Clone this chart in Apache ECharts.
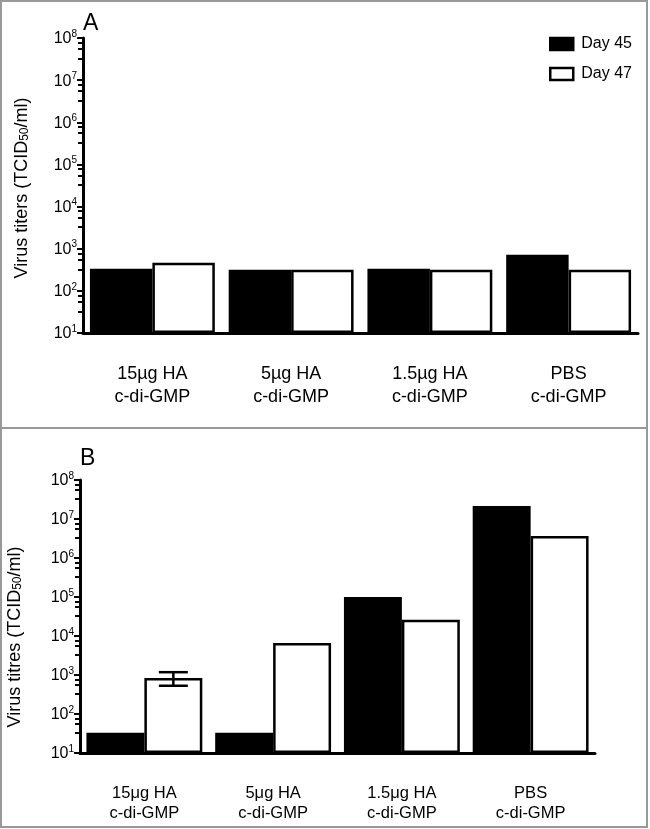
<!DOCTYPE html>
<html>
<head>
<meta charset="utf-8">
<script src="https://cdn.jsdelivr.net/npm/echarts@6/dist/echarts.min.js"></script>
<style>
  html, body { margin: 0; padding: 0; background: #fff; }
  #chart { width: 650px; height: 829px; }
</style>
</head>
<body>
<div id="chart"></div>
<script>
// categories
const categoriesA = ['15µg HA\nc-di-GMP', '5µg HA\nc-di-GMP', '1.5µg HA\nc-di-GMP', 'PBS\nc-di-GMP'];
const categoriesB = ['15μg HA\nc-di-GMP', '5μg HA\nc-di-GMP', '1.5μg HA\nc-di-GMP', 'PBS\nc-di-GMP'];
const seriesNames = ['Day 45', 'Day 47'];

// panel A values (TCID50/ml)
const day45A = [333, 316, 333, 720];
const day47A = [464, 316, 316, 316];

// panel B values (TCID50/ml)
const day45B = [33, 33, 100000, 21500000];
const day47B = [840, 6600, 26000, 3660000];
// error bar on Day 47: [category index, low, high]
const errorB = [[0, 530, 1180]];

// log axis range
const yMin = 10;
const yMax = 1e8;

const FONT = '"Liberation Sans", Arial, Helvetica, sans-serif';
const CAT_GAP = 0.1;

const chart = echarts.init(document.getElementById('chart'));

function yAxisFor(gridIndex) {
  return {
    type: 'log',
    logBase: 10,
    gridIndex: gridIndex,
    min: yMin,
    max: yMax,
    startValue: yMin,
    splitNumber: 7,
    axisLine: { show: true, onZero: false, lineStyle: { color: '#000', width: 3 } },
    axisTick: { show: true, length: 6, lineStyle: { color: '#000', width: 2 } },
    minorTick: { show: true, splitNumber: 4, length: 5, lineStyle: { color: '#000', width: 2 } },
    splitLine: { show: false },
    minorSplitLine: { show: false },
    axisLabel: {
      margin: 6,
      formatter: function (v) {
        return '{b|10}{s|' + Math.round(Math.log10(v)) + '}';
      },
      rich: {
        b: { fontSize: 16, lineHeight: 18, verticalAlign: 'bottom', color: '#000', fontFamily: FONT },
        s: { fontSize: 10, lineHeight: 10, verticalAlign: 'top', color: '#000', fontFamily: FONT }
      }
    }
  };
}

function xAxisFor(gridIndex, cats, fontSize, lineHeight) {
  return {
    type: 'category',
    gridIndex: gridIndex,
    data: cats,
    axisLine: { show: true, onZero: false, lineStyle: { color: '#000', width: 3 } },
    axisTick: { show: false },
    axisLabel: {
      interval: 0,
      margin: 30,
      color: '#000',
      fontSize: fontSize,
      lineHeight: lineHeight,
      fontFamily: FONT,
      align: 'center'
    }
  };
}

function barSeries(name, data, gridIndex, fill) {
  return {
    name: name,
    type: 'bar',
    xAxisIndex: gridIndex,
    yAxisIndex: gridIndex,
    data: data,
    clip: true,
    barGap: '0%',
    barCategoryGap: (CAT_GAP * 100) + '%',
    itemStyle: { color: fill, borderColor: '#000', borderWidth: 2.5 },
    emphasis: { disabled: true }
  };
}

const titleRich = {
  b: { fontSize: 18, lineHeight: 18, verticalAlign: 'top', fill: '#000', fontFamily: FONT },
  s: { fontSize: 12, lineHeight: 12, padding: [9, 0, 0, 0], verticalAlign: 'bottom', fill: '#000', fontFamily: FONT }
};

const option = {
  backgroundColor: '#fff',
  animation: false,
  textStyle: { fontFamily: FONT },
  grid: [
    { left: 83, top: 38, width: 555, height: 295 },
    { left: 80, top: 480, width: 515, height: 273 }
  ],
  legend: {
    data: [
      { name: seriesNames[0], itemStyle: { color: '#000', borderColor: '#000', borderWidth: 2.5 } },
      { name: seriesNames[1], itemStyle: { color: '#fff', borderColor: '#000', borderWidth: 2.5 } }
    ],
    orient: 'vertical',
    left: 544,
    top: 31,
    icon: 'rect',
    itemWidth: 23,
    itemHeight: 12,
    itemGap: 14,
    selectedMode: false,
    textStyle: { fontSize: 16, lineHeight: 16, color: '#000', fontFamily: FONT, padding: [0, 0, 0, 3] }
  },
  xAxis: [
    xAxisFor(0, categoriesA, 18, 23),
    xAxisFor(1, categoriesB, 16.5, 20)
  ],
  yAxis: [yAxisFor(0), yAxisFor(1)],
  series: [
    barSeries(seriesNames[0], day45A, 0, '#000'),
    barSeries(seriesNames[1], day47A, 0, '#fff'),
    barSeries(seriesNames[0], day45B, 1, '#000'),
    barSeries(seriesNames[1], day47B, 1, '#fff'),
    {
      type: 'custom',
      xAxisIndex: 1,
      yAxisIndex: 1,
      data: errorB,
      z: 5,
      renderItem: function (params, api) {
        const idx = api.value(0);
        const band = api.coord([1, 100])[0] - api.coord([0, 100])[0];
        const barW = band * (1 - CAT_GAP) / 2;
        const lo = api.coord([idx, api.value(1)]);
        const hi = api.coord([idx, api.value(2)]);
        const cx = lo[0] + barW / 2;
        const half = barW / 4;
        const st = { stroke: '#000', lineWidth: 2.5 };
        return {
          type: 'group',
          children: [
            { type: 'line', shape: { x1: cx, y1: lo[1], x2: cx, y2: hi[1] }, style: st },
            { type: 'line', shape: { x1: cx - half, y1: lo[1], x2: cx + half, y2: lo[1] }, style: st },
            { type: 'line', shape: { x1: cx - half, y1: hi[1], x2: cx + half, y2: hi[1] }, style: st }
          ]
        };
      }
    }
  ],
  graphic: [
    { type: 'rect', shape: { x: 1, y: 1, width: 646, height: 826 }, style: { fill: 'none', stroke: '#999', lineWidth: 2 }, silent: true },
    { type: 'line', shape: { x1: 1, y1: 428, x2: 647, y2: 428 }, style: { stroke: '#999', lineWidth: 2 }, silent: true },
    { type: 'text', x: 83, y: 23.5, style: { text: 'A', fontSize: 23, fill: '#000', fontFamily: FONT, verticalAlign: 'middle' } },
    { type: 'text', x: 80, y: 459, style: { text: 'B', fontSize: 23, fill: '#000', fontFamily: FONT, verticalAlign: 'middle' } },
    {
      type: 'text', x: 22, y: 188, rotation: Math.PI / 2,
      style: { text: '{b|Virus titers (TCID}{s|50}{b|/ml)}', rich: titleRich, align: 'center', verticalAlign: 'middle' }
    },
    {
      type: 'text', x: 15, y: 637, rotation: Math.PI / 2,
      style: { text: '{b|Virus titres (TCID}{s|50}{b|/ml)}', rich: titleRich, align: 'center', verticalAlign: 'middle' }
    }
  ]
};

chart.setOption(option);
</script>
</body>
</html>
